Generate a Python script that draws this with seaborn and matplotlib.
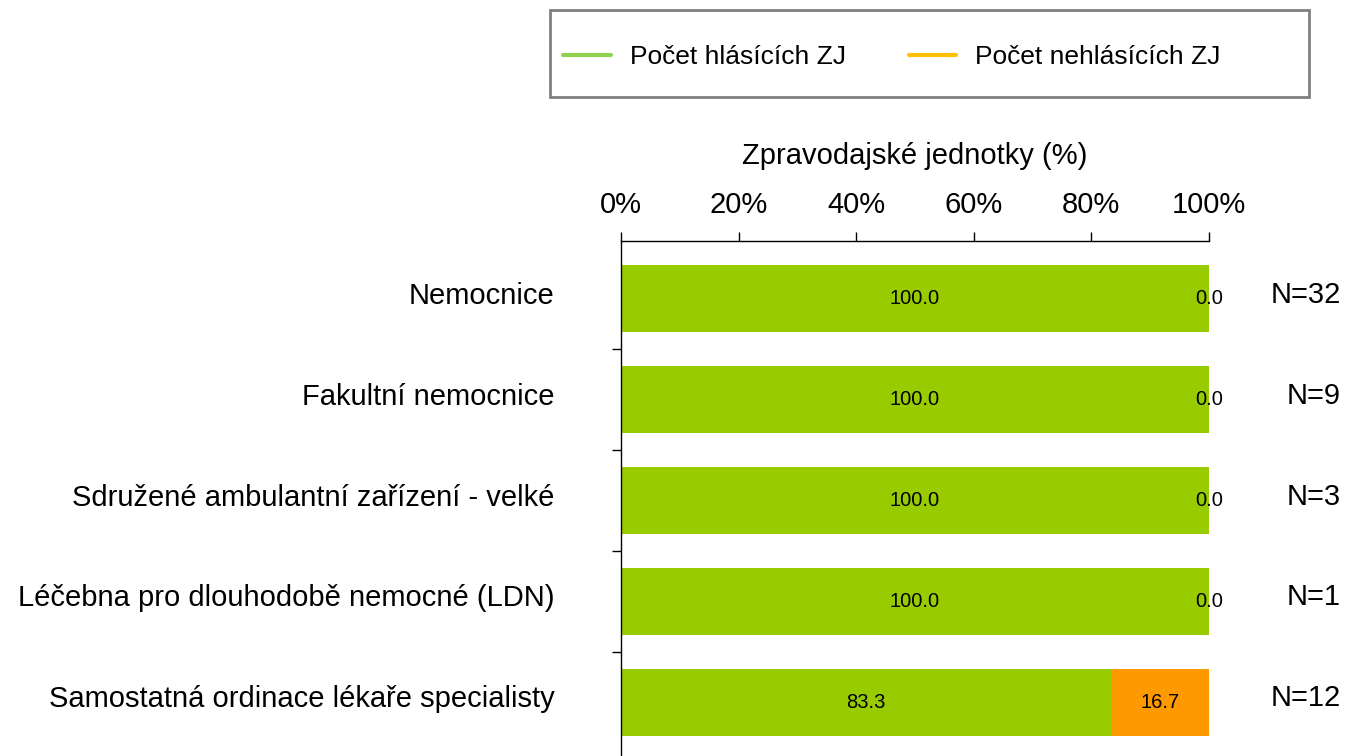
import matplotlib
matplotlib.use('Agg')
import matplotlib.pyplot as plt
import matplotlib.transforms as mtransforms
from matplotlib.lines import Line2D
from matplotlib.patches import Rectangle
import pandas as pd
import seaborn as sns

categories = ['Nemocnice', 'Fakultní nemocnice', 'Sdružené ambulantní zařízení - velké',
              'Léčebna pro dlouhodobě nemocné (LDN)', 'Samostatná ordinace lékaře specialisty']
reporting = [100.0, 100.0, 100.0, 100.0, 83.3]
not_reporting = [0.0, 0.0, 0.0, 0.0, 16.7]
n_units = [32, 9, 3, 1, 12]
x_ticks = [0, 20, 40, 60, 80, 100]

df = pd.DataFrame({'cat': categories, 'rep': reporting, 'norep': not_reporting})
df['total'] = df['rep'] + df['norep']

sns.set_style('white')
plt.rcParams['font.family'] = ['Liberation Sans', 'DejaVu Sans']
plt.rcParams.update({'text.color': 'black', 'axes.labelcolor': 'black',
                     'xtick.color': 'black', 'ytick.color': 'black'})

fig = plt.figure(figsize=(13.49, 7.56), dpi=100)
ax = fig.add_axes([0.4603, -0.0053, 0.4359, 0.6865])

sns.barplot(data=df, y='cat', x='total', color='#FF9900', orient='h', width=0.667,
            saturation=1, linewidth=0, ax=ax)
sns.barplot(data=df, y='cat', x='rep', color='#99CC00', orient='h', width=0.667,
            saturation=1, linewidth=0, ax=ax)

# small upward shift for the side labels
up6 = mtransforms.ScaledTranslation(0, 6 / 100, fig.dpi_scale_trans)
up4 = mtransforms.ScaledTranslation(0, 4 / 100, fig.dpi_scale_trans)

for i, row in df.iterrows():
    ax.text(row['rep'] / 2, i, f"{row['rep']:.1f}", ha='center', va='center', fontsize=14.5)
    ax.text(row['rep'] + row['norep'] / 2, i, f"{row['norep']:.1f}", ha='center', va='center', fontsize=14.5)
    ax.text(1.0 + 132 / 588, i, f"N={n_units[i]}", transform=ax.get_yaxis_transform() + up4,
            ha='right', va='center', fontsize=21)

ax.set_xlim(0, 100)
ax.set_ylim(4.57, -0.57)
ax.xaxis.tick_top()
ax.xaxis.set_label_position('top')
ax.set_xticks(x_ticks)
ax.set_xticklabels([f'{t}%' for t in x_ticks])
ax.set_xlabel('Zpravodajské jednotky (%)', fontsize=21, labelpad=20)
ax.set_ylabel('')
ax.tick_params(axis='x', direction='out', length=6.5, width=1, labelsize=21, pad=9)
ax.set_yticks(range(len(categories)))
ax.set_yticklabels(categories)
ax.tick_params(axis='y', which='major', length=0, labelsize=21, pad=48)
for lbl in ax.get_yticklabels():
    lbl.set_transform(lbl.get_transform() + up6)
ax.set_yticks([0.5, 1.5, 2.5, 3.5], minor=True)
ax.tick_params(axis='y', which='minor', length=6.5, width=1, direction='out', left=True)

for s in ['right', 'bottom']:
    ax.spines[s].set_visible(False)
for s in ['top', 'left']:
    ax.spines[s].set_visible(True)
    ax.spines[s].set_color('black')
    ax.spines[s].set_linewidth(1)

# legend frame drawn separately (fixed size box)
fig.patches.append(Rectangle((550 / 1349, 1 - 97 / 756), 759 / 1349, 87 / 756,
                             transform=fig.transFigure, facecolor='white',
                             edgecolor='#808080', linewidth=2, zorder=0))
handles = [Line2D([], [], color='#92D050', lw=3),
           Line2D([], [], color='#FFC000', lw=3)]
leg = fig.legend(handles, ['Počet hlásících ZJ', 'Počet nehlásících ZJ'], ncol=2,
                 loc='center left', bbox_to_anchor=(563 / 1349, 1 - 57 / 756),
                 frameon=False, fontsize=19, borderpad=0, borderaxespad=0,
                 handlelength=1.8, handletextpad=0.72, columnspacing=2.4)

fig.savefig('out.png', dpi=100)
